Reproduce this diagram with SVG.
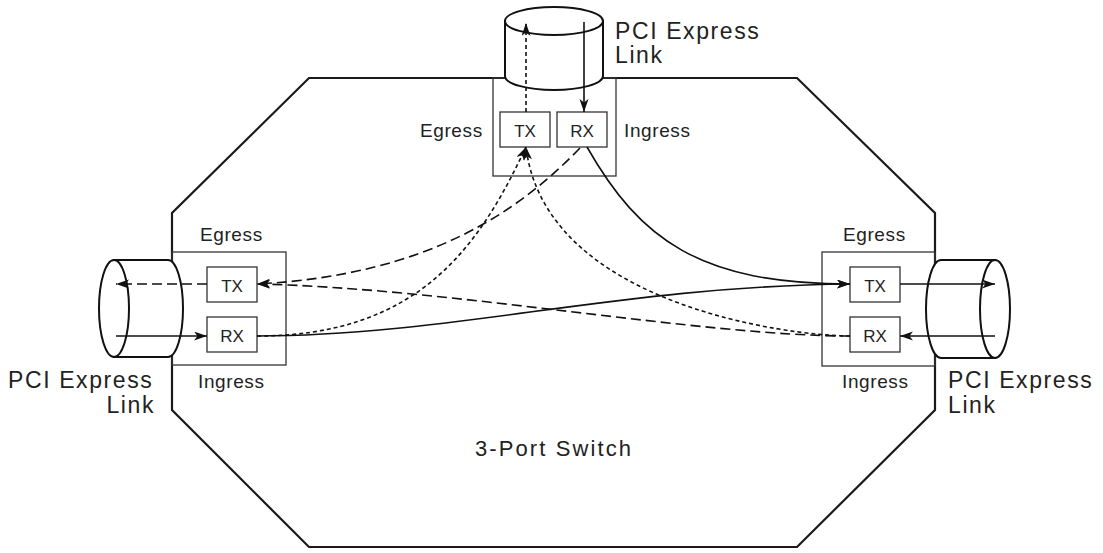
<svg xmlns="http://www.w3.org/2000/svg" width="1103" height="553" viewBox="0 0 1103 553">
<defs>
<style>
.oct{fill:none;stroke:#1a1a1a;stroke-width:2.2}
.port{fill:none;stroke:#333;stroke-width:1.3}
.box{fill:#fff;stroke:#333;stroke-width:1.3}
.cyl{fill:#fff;stroke:#111;stroke-width:2}
.ln{fill:none;stroke:#111;stroke-width:1.6}
.ld{fill:none;stroke:#111;stroke-width:1.6;stroke-dasharray:10 5}
.sd{fill:none;stroke:#111;stroke-width:1.6;stroke-dasharray:4 3}
text{font-family:"Liberation Sans",Arial,sans-serif;fill:#222}
.big{font-size:23px;letter-spacing:1.6px}
.lab{font-size:19px;letter-spacing:0.6px}
.bx{font-size:17px;text-anchor:middle}
</style>
<marker id="ah" markerUnits="userSpaceOnUse" markerWidth="16" markerHeight="10" refX="13" refY="4.5" orient="auto">
<path d="M0,0 L13,4.5 L0,9 L3.5,4.5 Z" fill="#111"/>
</marker>
</defs>
<g id="switch">
<polygon class="oct" points="309,78 797,78 935,213 935,410 797,547 309,547 172,410 172,213"/>
<text x="475" y="456" class="big" style="font-size:22px;letter-spacing:2.1px">3-Port Switch</text>
</g>
<g id="port-top">
<rect class="port" x="493" y="78" width="123" height="98"/>
<rect class="box" x="500" y="112" width="50" height="35"/>
<rect class="box" x="557" y="112" width="50" height="35"/>
<text x="525" y="137" class="bx">TX</text>
<text x="582" y="137" class="bx">RX</text>
<text x="420" y="137" class="lab">Egress</text>
<text x="624" y="137" class="lab">Ingress</text>
</g>
<g id="port-left">
<rect class="port" x="172" y="252" width="114" height="113"/>
<rect class="box" x="207" y="267" width="50" height="35"/>
<rect class="box" x="207" y="317" width="50" height="35"/>
<text x="232" y="292" class="bx">TX</text>
<text x="232" y="342" class="bx">RX</text>
<text x="200" y="241" class="lab">Egress</text>
<text x="198" y="388" class="lab">Ingress</text>
</g>
<g id="port-right">
<rect class="port" x="822" y="252" width="113" height="114"/>
<rect class="box" x="850" y="267" width="50" height="35"/>
<rect class="box" x="850" y="317" width="50" height="35"/>
<text x="875" y="292" class="bx">TX</text>
<text x="875" y="342" class="bx">RX</text>
<text x="843" y="241" class="lab">Egress</text>
<text x="842" y="388" class="lab">Ingress</text>
</g>
<g id="link-top">
<path class="cyl" d="M505,21 L505,76 A49,14 0 0 0 603,76 L603,21 Z"/>
<ellipse class="cyl" cx="554" cy="21" rx="49" ry="14"/>
<text x="615" y="39" class="big">PCI Express</text>
<text x="615" y="63" class="big">Link</text>
</g>
<g id="link-left">
<path class="cyl" d="M114,260 L168,260 A15,48.5 0 0 1 168,357 L114,357 Z"/>
<ellipse class="cyl" cx="114" cy="308.5" rx="15" ry="48.5"/>
<text x="8" y="388" class="big">PCI Express</text>
<text x="155" y="413" class="big" text-anchor="end">Link</text>
</g>
<g id="link-right">
<path class="cyl" d="M995,260 L941,260 A15,49 0 0 0 941,358 L995,358 Z"/>
<ellipse class="cyl" cx="995" cy="309" rx="15" ry="49"/>
<text x="948" y="388" class="big">PCI Express</text>
<text x="948" y="413" class="big">Link</text>
</g>
<g id="connectors">
<path class="sd" d="M526,112 L526,23" marker-end="url(#ah)"/>
<path class="ln" d="M584,22 L584,112" marker-end="url(#ah)"/>
<path class="ld" d="M207,284 L116,284" marker-end="url(#ah)"/>
<path class="ln" d="M116,336 L207,336" marker-end="url(#ah)"/>
<path class="ln" d="M900,284 L995,284" marker-end="url(#ah)"/>
<path class="ln" d="M995,336 L900,336" marker-end="url(#ah)"/>
<path class="ln" d="M587,147 C640,240 700,284 850,284" marker-end="url(#ah)"/>
<path class="ln" d="M257,336 C450,336 620,286 850,284" marker-end="url(#ah)"/>
<path class="ld" d="M580,148 C520,210 430,275 257,284" marker-end="url(#ah)"/>
<path class="ld" d="M850,336 C700,336 450,288 257,284" marker-end="url(#ah)"/>
<path class="sd" d="M257,336 C420,336 480,245 526,147" marker-end="url(#ah)"/>
<path class="sd" d="M850,336 C790,336 545,305 526,147" marker-end="url(#ah)"/>
</g>
</svg>
